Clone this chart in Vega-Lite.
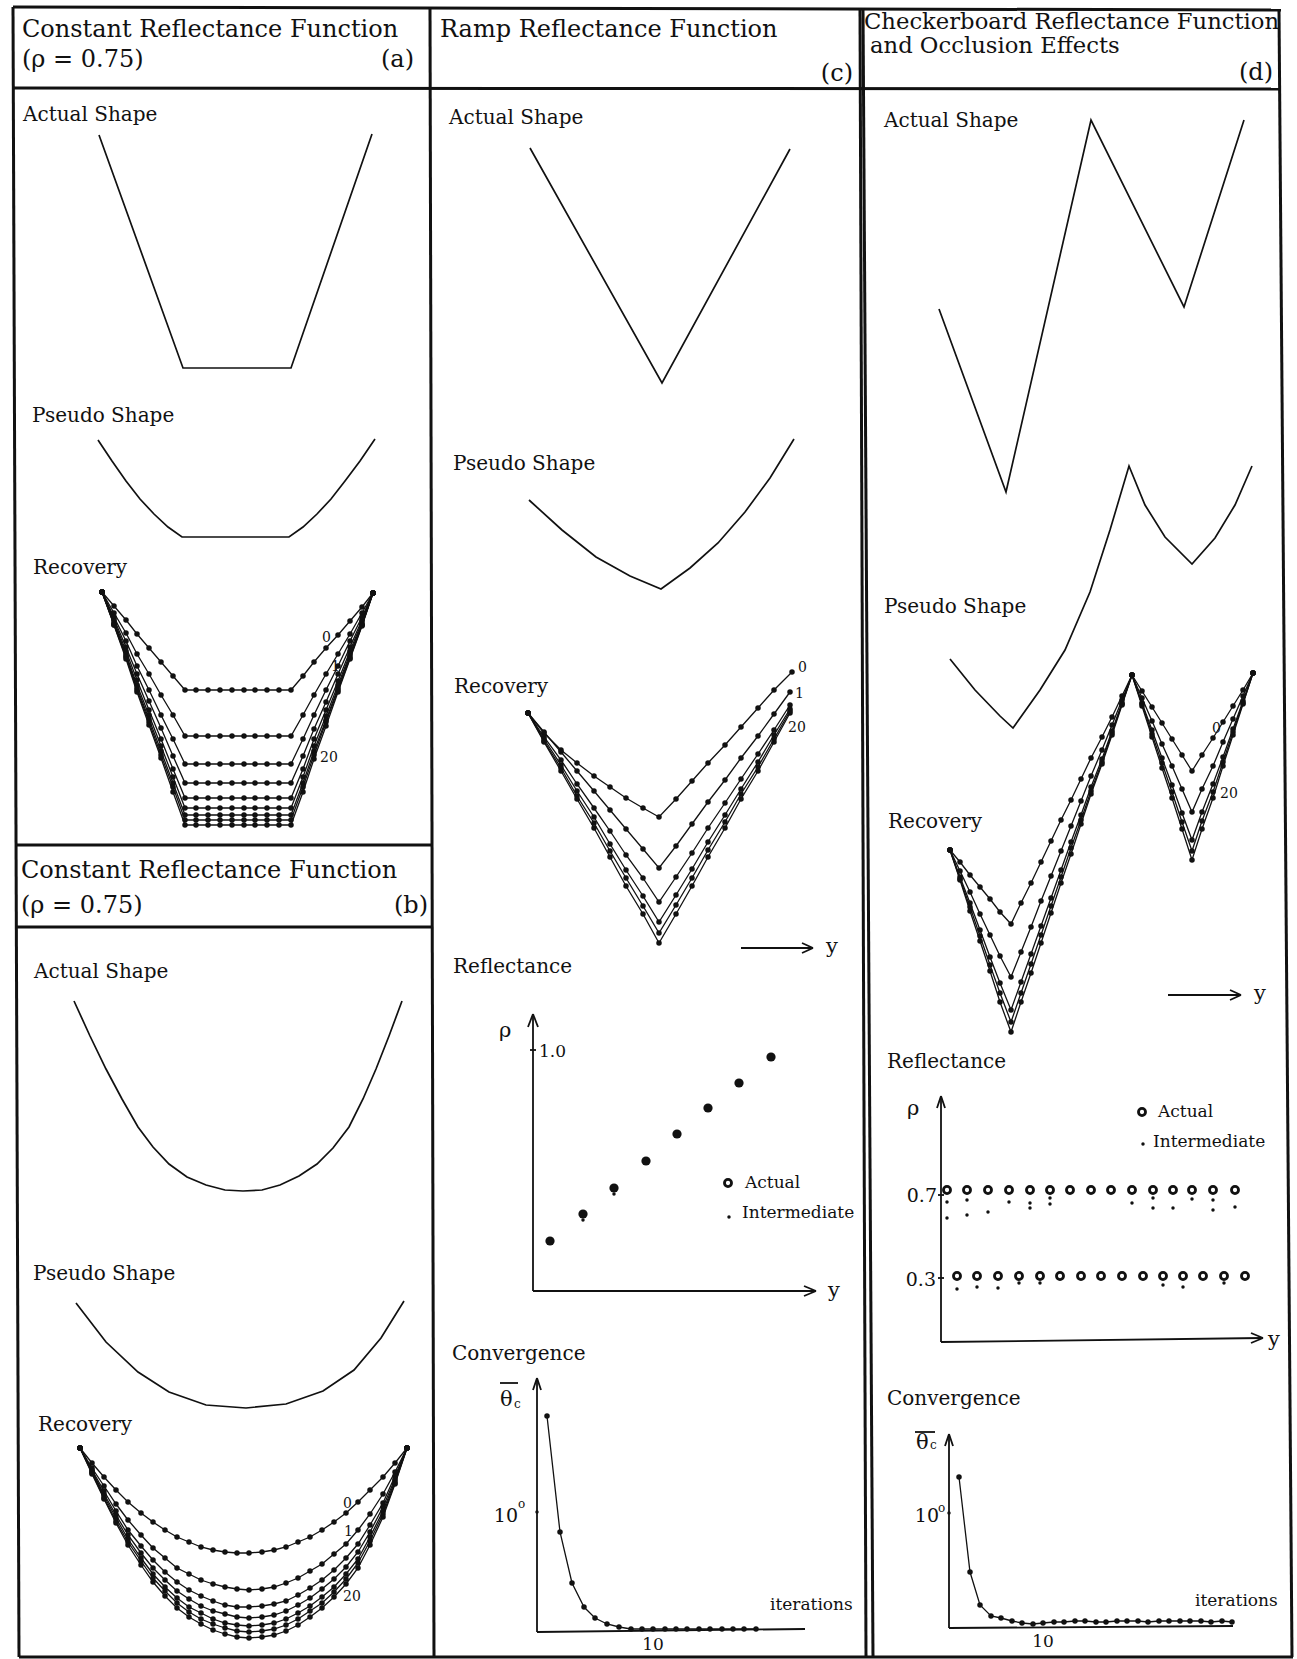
{
"$schema":"https://vega.github.io/schema/vega-lite/v6.json",
"width":1297,"height":1659,"autosize":"none","padding":0,
"background":"white",
"config":{"view":{"stroke":null}},
"datasets":{
"frame":[
{"x":13,"y":7,"x2":1281,"y2":10},
{"x":13,"y":7,"x2":19,"y2":1657},
{"x":430,"y":7,"x2":434,"y2":1657},
{"x":860,"y":8,"x2":866,"y2":1657},
{"x":863,"y":8,"x2":873,"y2":1657},
{"x":1279,"y":10,"x2":1292,"y2":1657},
{"x":13,"y":88,"x2":1281,"y2":89},
{"x":15,"y":845,"x2":432,"y2":845},
{"x":16,"y":927,"x2":433,"y2":927},
{"x":19,"y":1657,"x2":1293,"y2":1657}
],
"thin":[
{"x":533,"y":1291,"x2":533,"y2":1015},
{"x":533,"y":1014,"x2":528,"y2":1027},
{"x":533,"y":1014,"x2":538,"y2":1027},
{"x":533,"y":1291,"x2":815,"y2":1291},
{"x":816,"y":1291,"x2":804,"y2":1286},
{"x":816,"y":1291,"x2":804,"y2":1296},
{"x":530,"y":1050,"x2":536,"y2":1050},
{"x":537,"y":1632,"x2":537,"y2":1379},
{"x":537,"y":1378,"x2":533,"y2":1390},
{"x":537,"y":1378,"x2":541,"y2":1390},
{"x":537,"y":1632,"x2":805,"y2":1629},
{"x":941,"y":1342,"x2":941,"y2":1097},
{"x":941,"y":1096,"x2":937,"y2":1108},
{"x":941,"y":1096,"x2":945,"y2":1108},
{"x":941,"y":1342,"x2":1262,"y2":1338},
{"x":1263,"y":1338,"x2":1251,"y2":1333},
{"x":1263,"y":1338,"x2":1251,"y2":1343},
{"x":938,"y":1195,"x2":944,"y2":1195},
{"x":938,"y":1278,"x2":944,"y2":1278},
{"x":949,"y":1628,"x2":949,"y2":1435},
{"x":949,"y":1434,"x2":945,"y2":1446},
{"x":949,"y":1434,"x2":953,"y2":1446},
{"x":949,"y":1628,"x2":1233,"y2":1626},
{"x":741,"y":948,"x2":812,"y2":948},
{"x":813,"y":948,"x2":802,"y2":943},
{"x":813,"y":948,"x2":802,"y2":953},
{"x":1168,"y":995,"x2":1240,"y2":995},
{"x":1241,"y":995,"x2":1230,"y2":990},
{"x":1241,"y":995,"x2":1230,"y2":1000},
{"x":500,"y":1383,"x2":518,"y2":1383},
{"x":915,"y":1432,"x2":935,"y2":1432}
],
"shapes":[
{"id":"aA","x":[99,183,291,372],"y":[135,368,368,134]},
{"id":"aP","x":[98,112,126,140,154,168,182,289,303,317,331,345,360,375],"y":[440,461,481,499,514,527,537,537,527,514,499,481,461,439]},
{"id":"bA","x":[74,90,106,122,138,153,169,187,206,225,243,262,280,299,317,333,349,363,376,389,402],"y":[1001,1036,1069,1099,1127,1147,1164,1177,1185,1190,1191,1190,1185,1176,1164,1148,1127,1099,1069,1036,1001]},
{"id":"bP","x":[76,106,138,169,206,246,286,323,354,381,404],"y":[1303,1342,1372,1392,1405,1408,1404,1391,1370,1338,1301]},
{"id":"cA","x":[530,662,790],"y":[148,383,149]},
{"id":"cP","x":[529,562,596,630,661,690,718,745,770,794],"y":[500,530,557,576,589,568,543,512,478,439]},
{"id":"dA","x":[939,1006,1091,1184,1244],"y":[309,492,120,307,120]},
{"id":"dP","x":[950,975,1000,1013,1040,1065,1090,1110,1129,1145,1165,1192,1215,1235,1252],"y":[659,690,716,728,690,650,592,530,466,505,537,564,538,505,466]}
],
"recov":[
{"id":"a0","x":[102,114,126,137,149,161,173,185,196,208,220,232,244,255,267,279,291,303,314,326,338,350,362,373],"y":[592,606,620,634,648,662,676,690,690,690,690,690,690,690,690,690,690,676,662,648,635,621,607,593]},
{"id":"a1","x":[102,114,126,137,149,161,173,185,196,208,220,232,244,255,267,279,291,303,314,326,338,350,362,373],"y":[592,613,633,654,674,695,715,736,736,736,736,736,736,736,736,736,736,715,695,674,654,634,613,593]},
{"id":"a2","x":[102,114,126,137,149,161,173,185,196,208,220,232,244,255,267,279,291,303,314,326,338,350,362,373],"y":[592,617,641,666,690,715,739,764,764,764,764,764,764,764,764,764,764,739,715,690,666,641,617,593]},
{"id":"a3","x":[102,114,126,137,149,161,173,185,196,208,220,232,244,255,267,279,291,303,314,326,338,350,362,373],"y":[592,619,647,674,701,728,756,783,783,783,783,783,783,783,783,783,783,756,729,702,674,647,620,593]},
{"id":"a4","x":[102,114,126,137,149,161,173,185,196,208,220,232,244,255,267,279,291,303,314,326,338,350,362,373],"y":[592,621,651,680,710,739,769,798,798,798,798,798,798,798,798,798,798,769,739,710,681,651,622,593]},
{"id":"a5","x":[102,114,126,137,149,161,173,185,196,208,220,232,244,255,267,279,291,303,314,326,338,350,362,373],"y":[592,623,654,685,715,746,777,808,808,808,808,808,808,808,808,808,808,777,746,716,685,654,624,593]},
{"id":"a6","x":[102,114,126,137,149,161,173,185,196,208,220,232,244,255,267,279,291,303,314,326,338,350,362,373],"y":[592,624,656,688,719,751,783,815,815,815,815,815,815,815,815,815,815,783,751,720,688,656,625,593]},
{"id":"a7","x":[102,114,126,137,149,161,173,185,196,208,220,232,244,255,267,279,291,303,314,326,338,350,362,373],"y":[592,625,657,690,722,755,787,820,820,820,820,820,820,820,820,820,820,787,755,722,690,658,625,593]},
{"id":"a8","x":[102,114,126,137,149,161,173,185,196,208,220,232,244,255,267,279,291,303,314,326,338,350,362,373],"y":[592,625,659,692,725,758,792,825,825,825,825,825,825,825,825,825,825,792,759,726,692,659,626,593]},
{"id":"b0","x":[80,92,104,116,128,141,153,165,177,189,201,213,225,237,249,262,274,286,298,310,322,334,346,358,370,383,395,407],"y":[1448,1463,1477,1490,1502,1513,1522,1530,1537,1542,1547,1550,1552,1553,1553,1552,1550,1547,1542,1537,1530,1522,1513,1502,1490,1477,1463,1448]},
{"id":"b1","x":[80,92,104,116,128,141,153,165,177,189,201,213,225,237,249,262,274,286,298,310,322,334,346,358,370,383,395,407],"y":[1448,1468,1486,1504,1520,1535,1548,1558,1568,1574,1580,1584,1587,1589,1590,1589,1587,1583,1578,1571,1564,1554,1544,1530,1514,1494,1472,1448]},
{"id":"b2","x":[80,92,104,116,128,141,153,165,177,189,201,213,225,237,249,262,274,286,298,310,322,334,346,358,370,383,395,407],"y":[1448,1470,1491,1511,1530,1546,1560,1572,1582,1590,1596,1601,1605,1607,1607,1606,1604,1601,1595,1588,1580,1570,1558,1544,1525,1503,1476,1448]},
{"id":"b3","x":[80,92,104,116,128,141,153,165,177,189,201,213,225,237,249,262,274,286,298,310,322,334,346,358,370,383,395,407],"y":[1448,1471,1494,1515,1535,1553,1568,1580,1591,1599,1606,1611,1614,1617,1618,1617,1615,1611,1605,1598,1589,1579,1567,1552,1532,1507,1479,1448]},
{"id":"b4","x":[80,92,104,116,128,141,153,165,177,189,201,213,225,237,249,262,274,286,298,310,322,334,346,358,370,383,395,407],"y":[1448,1472,1496,1518,1539,1558,1574,1587,1598,1607,1613,1619,1623,1625,1626,1625,1623,1619,1613,1606,1597,1587,1574,1559,1537,1511,1481,1448]},
{"id":"b5","x":[80,92,104,116,128,141,153,165,177,189,201,213,225,237,249,262,274,286,298,310,322,334,346,358,370,383,395,407],"y":[1448,1473,1498,1521,1542,1561,1578,1591,1603,1612,1619,1624,1628,1631,1632,1631,1629,1625,1619,1611,1603,1592,1579,1563,1541,1514,1483,1448]},
{"id":"b6","x":[80,92,104,116,128,141,153,165,177,189,201,213,225,237,249,262,274,286,298,310,322,334,346,358,370,383,395,407],"y":[1448,1474,1499,1523,1545,1565,1582,1596,1608,1617,1624,1630,1634,1637,1638,1637,1635,1631,1625,1617,1608,1597,1584,1568,1545,1517,1484,1448]},
{"id":"c0","x":[528,544,561,577,594,610,626,643,659,676,692,708,725,741,758,774,792],"y":[713,733,750,763,776,787,798,808,817,799,781,763,745,727,708,690,672]},
{"id":"c1","x":[528,544,561,577,594,610,626,643,659,676,692,708,725,741,758,774,790],"y":[713,732,752,771,791,810,829,849,868,846,824,802,780,758,736,714,692]},
{"id":"c2","x":[528,544,561,577,594,610,626,643,659,676,692,708,725,741,758,774,790],"y":[713,737,760,784,808,831,855,878,902,877,853,828,803,779,754,730,705]},
{"id":"c3","x":[528,544,561,577,594,610,626,643,659,676,692,708,725,741,758,774,790],"y":[713,739,765,791,817,844,870,896,922,895,869,842,815,789,762,735,709]},
{"id":"c4","x":[528,544,561,577,594,610,626,643,659,676,692,708,725,741,758,774,790],"y":[713,741,768,796,823,851,878,906,933,905,878,850,822,794,767,739,711]},
{"id":"c5","x":[528,544,561,577,594,610,626,643,659,676,692,708,725,741,758,774,790],"y":[713,742,771,799,828,857,886,914,943,914,886,857,828,799,771,742,713]},
{"id":"d0","x":[950,960,970,980,990,1000,1011,1021,1031,1041,1051,1061,1071,1081,1091,1102,1112,1122,1132,1142,1152,1162,1172,1182,1192,1202,1213,1223,1233,1243,1253],"y":[850,862,875,887,899,912,924,903,883,862,841,820,800,779,758,737,717,696,675,691,707,723,739,755,771,755,738,722,706,690,673]},
{"id":"d1","x":[950,960,970,980,990,1000,1011,1021,1031,1041,1051,1061,1071,1081,1091,1102,1112,1122,1132,1142,1152,1162,1172,1182,1192,1202,1213,1223,1233,1243,1253],"y":[850,871,892,914,935,956,977,952,927,901,876,851,826,801,776,750,725,700,675,698,721,744,766,789,812,789,766,742,719,696,673]},
{"id":"d2","x":[950,960,970,980,990,1000,1011,1021,1031,1041,1051,1061,1071,1081,1091,1102,1112,1122,1132,1142,1152,1162,1172,1182,1192,1202,1213,1223,1233,1243,1253],"y":[850,877,903,930,957,983,1010,982,954,926,898,870,842,815,787,759,731,703,675,703,730,758,785,813,840,812,784,757,729,701,673]},
{"id":"d3","x":[950,960,970,980,990,1000,1011,1021,1031,1041,1051,1061,1071,1081,1091,1102,1112,1122,1132,1142,1152,1162,1172,1182,1192,1202,1213,1223,1233,1243,1253],"y":[850,879,907,936,965,993,1022,993,964,935,906,877,848,820,791,762,733,704,675,704,734,763,792,822,851,821,792,762,732,703,673]},
{"id":"d4","x":[950,960,970,980,990,1000,1011,1021,1031,1041,1051,1061,1071,1081,1091,1102,1112,1122,1132,1142,1152,1162,1172,1182,1192,1202,1213,1223,1233,1243,1253],"y":[850,880,911,941,971,1002,1032,1002,973,943,913,883,854,824,794,764,735,705,675,706,737,768,798,829,860,829,798,766,735,704,673]},
{"id":"cC","x":[547,560,572,584,595,607,619,631,642,653,665,676,687,699,710,722,733,744,756],"y":[1416,1532,1583,1607,1618,1624,1627,1629,1629,1629,1629,1629,1629,1629,1629,1629,1629,1629,1629]},
{"id":"dC","x":[959,970,980,991,1001,1012,1022,1033,1043,1054,1064,1075,1085,1096,1106,1117,1127,1138,1148,1159,1169,1180,1190,1201,1211,1222,1232],"y":[1477,1572,1605,1616,1618,1621,1623,1624,1623,1622,1622,1621,1621,1622,1622,1621,1621,1621,1622,1621,1621,1621,1621,1621,1622,1621,1622]}
],
"rc":[
{"x":550,"y":1241},{"x":583,"y":1214},{"x":614,"y":1188},{"x":646,"y":1161},{"x":677,"y":1134},{"x":708,"y":1108},{"x":739,"y":1083},{"x":771,"y":1057}
],
"rings":[
{"x":728,"y":1183},{"x":1142,"y":1112},
{"x":947,"y":1190},{"x":967,"y":1190},{"x":988,"y":1190},{"x":1009,"y":1190},{"x":1030,"y":1190},{"x":1050,"y":1190},{"x":1070,"y":1190},{"x":1091,"y":1190},{"x":1111,"y":1190},{"x":1132,"y":1190},{"x":1153,"y":1190},{"x":1173,"y":1190},{"x":1192,"y":1190},{"x":1213,"y":1190},{"x":1235,"y":1190},
{"x":957,"y":1276},{"x":977,"y":1276},{"x":998,"y":1276},{"x":1019,"y":1276},{"x":1040,"y":1276},{"x":1060,"y":1276},{"x":1081,"y":1276},{"x":1101,"y":1276},{"x":1122,"y":1276},{"x":1143,"y":1276},{"x":1163,"y":1276},{"x":1183,"y":1276},{"x":1203,"y":1276},{"x":1224,"y":1276},{"x":1245,"y":1276}
],
"sd":[
{"x":729,"y":1217},{"x":1143,"y":1144},{"x":537,"y":1512},{"x":949,"y":1513},
{"x":583,"y":1220},{"x":614,"y":1194},
{"x":947,"y":1202},{"x":947,"y":1218},{"x":967,"y":1200},{"x":967,"y":1215},{"x":988,"y":1212},{"x":1009,"y":1202},{"x":1030,"y":1203},{"x":1030,"y":1208},{"x":1050,"y":1198},{"x":1050,"y":1204},{"x":1132,"y":1203},{"x":1153,"y":1198},{"x":1153,"y":1208},{"x":1173,"y":1208},{"x":1192,"y":1199},{"x":1213,"y":1200},{"x":1213,"y":1210},{"x":1235,"y":1207},
{"x":957,"y":1289},{"x":977,"y":1287},{"x":998,"y":1288},{"x":1019,"y":1283},{"x":1040,"y":1283},{"x":1163,"y":1285},{"x":1183,"y":1287},{"x":1224,"y":1283}
],
"headA":[{"t":"Constant Reflectance Function","x":22,"y":37},{"t":"Ramp Reflectance Function","x":440,"y":37},{"t":"Constant Reflectance Function","x":21,"y":878},{"t":"(ρ = 0.75)","x":22,"y":67},{"t":"(ρ = 0.75)","x":21,"y":913}],
"headD":[{"t":"Checkerboard Reflectance Function","x":864,"y":29},{"t":"and Occlusion Effects","x":870,"y":53}],
"headR":[{"t":"(a)","x":414,"y":67},{"t":"(c)","x":853,"y":81},{"t":"(d)","x":1273,"y":80},{"t":"(b)","x":428,"y":913}],
"labels":[{"t":"Actual Shape","x":23,"y":121},{"t":"Pseudo Shape","x":32,"y":422},{"t":"Recovery","x":33,"y":574},{"t":"Actual Shape","x":34,"y":978},{"t":"Pseudo Shape","x":33,"y":1280},{"t":"Recovery","x":38,"y":1431},{"t":"Actual Shape","x":449,"y":124},{"t":"Pseudo Shape","x":453,"y":470},{"t":"Recovery","x":454,"y":693},{"t":"Reflectance","x":453,"y":973},{"t":"Convergence","x":452,"y":1360},{"t":"Actual Shape","x":884,"y":127},{"t":"Pseudo Shape","x":884,"y":613},{"t":"Recovery","x":888,"y":828},{"t":"Reflectance","x":887,"y":1068},{"t":"Convergence","x":887,"y":1405}],
"small":[{"t":"Actual","x":745,"y":1188},{"t":"Intermediate","x":742,"y":1218},{"t":"Actual","x":1158,"y":1117},{"t":"Intermediate","x":1153,"y":1147},{"t":"1.0","x":539,"y":1057},{"t":"iterations","x":770,"y":1610},{"t":"iterations","x":1195,"y":1606}],
"yl":[{"t":"y","x":826,"y":953},{"t":"y","x":1254,"y":1000},{"t":"y","x":828,"y":1297},{"t":"y","x":1268,"y":1346}],
"rightT":[{"t":"0.7","x":937,"y":1202},{"t":"0.3","x":936,"y":1286},{"t":"10","x":518,"y":1522},{"t":"10","x":939,"y":1522}],
"centerT":[{"t":"10","x":653,"y":1650},{"t":"10","x":1043,"y":1647}],
"tiny":[{"t":"o","x":518,"y":1508},{"t":"o","x":938,"y":1512},{"t":"c","x":514,"y":1408},{"t":"c","x":930,"y":1449}],
"greek":[{"t":"θ","x":500,"y":1406},{"t":"θ","x":916,"y":1449},{"t":"ρ","x":499,"y":1037},{"t":"ρ","x":907,"y":1115}],
"nums":[{"t":"0","x":322,"y":642},{"t":"1","x":331,"y":671},{"t":"20","x":320,"y":762},{"t":"0","x":343,"y":1508},{"t":"1","x":344,"y":1536},{"t":"20","x":343,"y":1601},{"t":"0","x":798,"y":672},{"t":"1","x":795,"y":698},{"t":"20","x":788,"y":732},{"t":"0","x":1212,"y":733},{"t":"20","x":1220,"y":798}]
},
"encoding":{
"x":{"field":"x","type":"quantitative","scale":{"domain":[0,1297],"nice":false,"zero":false},"axis":null},
"y":{"field":"y","type":"quantitative","scale":{"domain":[0,1659],"reverse":true,"nice":false,"zero":false},"axis":null}
},
"layer":[
{"data":{"name":"frame"},"mark":{"type":"rule","strokeWidth":3,"color":"#111"},"encoding":{"x2":{"field":"x2"},"y2":{"field":"y2"}}},
{"data":{"name":"thin"},"mark":{"type":"rule","strokeWidth":1.8,"color":"#111"},"encoding":{"x2":{"field":"x2"},"y2":{"field":"y2"}}},
{"data":{"name":"shapes"},"transform":[{"flatten":["x","y"]}],"mark":{"type":"line","strokeWidth":1.7,"color":"#111"},"encoding":{"detail":{"field":"id"}}},
{"data":{"name":"recov"},"transform":[{"flatten":["x","y"]}],"mark":{"type":"line","strokeWidth":1.3,"color":"#111"},"encoding":{"detail":{"field":"id"}}},
{"data":{"name":"recov"},"transform":[{"flatten":["x","y"]}],"mark":{"type":"point","filled":true,"size":30,"opacity":1,"color":"#111"},"encoding":{}},
{"data":{"name":"rc"},"mark":{"type":"point","filled":true,"size":85,"opacity":1,"color":"#111"},"encoding":{}},
{"data":{"name":"rings"},"mark":{"type":"point","filled":false,"size":50,"strokeWidth":2.8,"opacity":1,"color":"#111"},"encoding":{}},
{"data":{"name":"sd"},"mark":{"type":"point","filled":true,"size":12,"opacity":1,"color":"#111"},"encoding":{}},
{"data":{"name":"headA"},"mark":{"type":"text","font":"DejaVu Serif","fontSize":24,"align":"left","baseline":"alphabetic","color":"#111"},"encoding":{"text":{"field":"t"}}},
{"data":{"name":"headD"},"mark":{"type":"text","font":"DejaVu Serif","fontSize":22.7,"align":"left","baseline":"alphabetic","color":"#111"},"encoding":{"text":{"field":"t"}}},
{"data":{"name":"headR"},"mark":{"type":"text","font":"DejaVu Serif","fontSize":24,"align":"right","baseline":"alphabetic","color":"#111"},"encoding":{"text":{"field":"t"}}},
{"data":{"name":"labels"},"mark":{"type":"text","font":"DejaVu Serif","fontSize":20,"align":"left","baseline":"alphabetic","color":"#111"},"encoding":{"text":{"field":"t"}}},
{"data":{"name":"small"},"mark":{"type":"text","font":"DejaVu Serif","fontSize":17,"align":"left","baseline":"alphabetic","color":"#111"},"encoding":{"text":{"field":"t"}}},
{"data":{"name":"yl"},"mark":{"type":"text","font":"DejaVu Serif","fontSize":21,"align":"left","baseline":"alphabetic","color":"#111"},"encoding":{"text":{"field":"t"}}},
{"data":{"name":"rightT"},"mark":{"type":"text","font":"DejaVu Serif","fontSize":19,"align":"right","baseline":"alphabetic","color":"#111"},"encoding":{"text":{"field":"t"}}},
{"data":{"name":"centerT"},"mark":{"type":"text","font":"DejaVu Serif","fontSize":17,"align":"center","baseline":"alphabetic","color":"#111"},"encoding":{"text":{"field":"t"}}},
{"data":{"name":"tiny"},"mark":{"type":"text","font":"DejaVu Serif","fontSize":12,"align":"left","baseline":"alphabetic","color":"#111"},"encoding":{"text":{"field":"t"}}},
{"data":{"name":"greek"},"mark":{"type":"text","font":"DejaVu Serif","fontSize":21,"align":"left","baseline":"alphabetic","color":"#111"},"encoding":{"text":{"field":"t"}}},
{"data":{"name":"nums"},"mark":{"type":"text","font":"DejaVu Serif","fontSize":14,"align":"left","baseline":"alphabetic","color":"#111"},"encoding":{"text":{"field":"t"}}}
]
}
